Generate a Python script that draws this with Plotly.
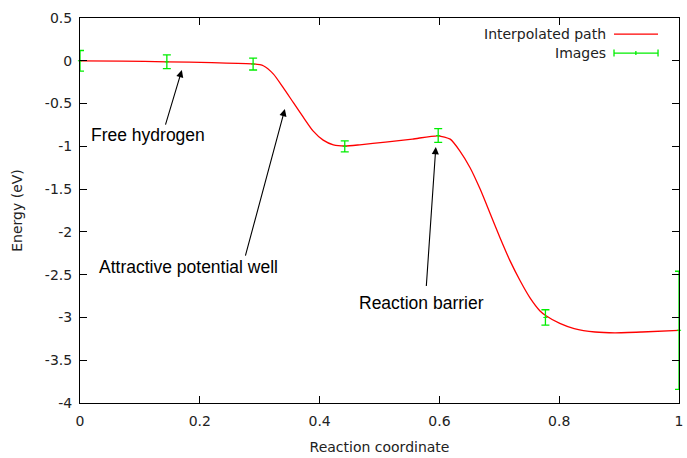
import plotly.graph_objects as go

# Interpolated path
path_x = [0, 0.07, 0.145, 0.22, 0.289, 0.306, 0.323, 0.339, 0.356, 0.373, 0.389, 0.406,
          0.423, 0.442, 0.467, 0.51, 0.555, 0.598, 0.618, 0.634, 0.651, 0.668, 0.684, 0.701,
          0.718, 0.735, 0.751, 0.768, 0.778, 0.801, 0.825, 0.86, 0.893, 0.938, 1.0]
path_y = [0, -0.003, -0.012, -0.022, -0.036, -0.058, -0.156, -0.311, -0.487, -0.662, -0.819, -0.927,
          -0.982, -0.996, -0.982, -0.95, -0.915, -0.877, -0.916, -1.052, -1.247, -1.50, -1.773, -2.066,
          -2.339, -2.574, -2.768, -2.924, -2.98, -3.07, -3.13, -3.17, -3.18, -3.17, -3.15]

# Images with error bars
img_x = [0, 0.145, 0.289, 0.442, 0.598, 0.777, 1.0]
img_y = [0, -0.012, -0.038, -1.0, -0.873, -3.0, -3.15]
img_err = [0.12, 0.08, 0.07, 0.064, 0.08, 0.09, 0.69]

x_ticks = [0, 0.2, 0.4, 0.6, 0.8, 1]
x_tick_labels = ["0", "0.2", "0.4", "0.6", "0.8", "1"]
y_ticks = [0.5, 0, -0.5, -1, -1.5, -2, -2.5, -3, -3.5, -4]
y_tick_labels = ["0.5", "0", "-0.5", "-1", "-1.5", "-2", "-2.5", "-3", "-3.5", "-4"]

legend_labels = ["Interpolated path", "Images"]
x_title = "Reaction coordinate"
y_title = "Energy (eV)"

# Arrow annotations: (tail_x, tail_y, head_x, head_y)
arrows = [
    (0.142, -0.764, 0.170, -0.109),
    (0.2755, -2.296, 0.342, -0.565),
    (0.578, -2.65, 0.594, -1.009),
]
labels = [
    ("Free hydrogen", 0.015, -0.87),
    ("Attractive potential well", 0.028, -2.41),
    ("Reaction barrier", 0.4625, -2.83),
]

RED = "#ff0000"
GREEN = "#00ee00"
FONT = "DejaVu Sans"

fig = go.Figure()
fig.add_trace(go.Scatter(
    x=path_x, y=path_y, mode="lines", line=dict(color=RED, width=1.3, shape="spline", smoothing=0.6),
    name=legend_labels[0], showlegend=False, cliponaxis=True))
fig.add_trace(go.Scatter(
    x=img_x, y=img_y, mode="markers", name=legend_labels[1], showlegend=False,
    marker=dict(color=GREEN, size=3, symbol="line-ew", line=dict(color=GREEN, width=1)),
    error_y=dict(type="data", array=img_err, visible=True, color=GREEN, thickness=1.3, width=4),
    cliponaxis=False))

annotations = []
for (tx, ty, hx, hy) in arrows:
    annotations.append(dict(
        x=hx, y=hy, ax=tx, ay=ty, xref="x", yref="y", axref="x", ayref="y",
        text="", showarrow=True, arrowhead=2, arrowsize=1.3, arrowwidth=1.1, arrowcolor="black"))
for (txt, lx, ly) in labels:
    annotations.append(dict(
        x=lx, y=ly, xref="x", yref="y", text=txt, showarrow=False, xanchor="left", yanchor="middle",
        font=dict(family="Liberation Sans", size=17.5, color="black")))

# Manual legend (text to the left of the sample, like gnuplot)
leg_text_x = 0.882
leg_rows = [0.958, 0.909]
for lab, ry in zip(legend_labels, leg_rows):
    annotations.append(dict(
        x=leg_text_x, y=ry, xref="paper", yref="paper", text=lab, showarrow=False,
        xanchor="right", yanchor="middle", font=dict(family=FONT, size=14, color="#222")))

shapes = []
sx0, sx1, sxm = 0.8915, 0.965, 0.928
cap = 0.009
shapes.append(dict(type="line", xref="paper", yref="paper", x0=sx0, x1=sx1, y0=leg_rows[0], y1=leg_rows[0],
                   line=dict(color=RED, width=1.3)))
shapes.append(dict(type="line", xref="paper", yref="paper", x0=sx0, x1=sx1, y0=leg_rows[1], y1=leg_rows[1],
                   line=dict(color=GREEN, width=1.3)))
for xx in (sx0, sx1, sxm):
    c = cap if xx != sxm else cap * 0.6
    shapes.append(dict(type="line", xref="paper", yref="paper", x0=xx, x1=xx,
                       y0=leg_rows[1] - c, y1=leg_rows[1] + c, line=dict(color=GREEN, width=1.3)))

fig.update_layout(
    width=687, height=458,
    margin=dict(l=80, r=8, t=18, b=55, autoexpand=False),
    plot_bgcolor="white", paper_bgcolor="white",
    font=dict(family=FONT, size=14, color="#222"),
    showlegend=False,
    annotations=annotations, shapes=shapes,
)
fig.update_xaxes(
    range=[0, 1], tickvals=x_ticks, ticktext=x_tick_labels, automargin=False,
    showline=True, linecolor="black", linewidth=1, mirror="ticks",
    ticks="inside", ticklen=7, tickcolor="black", showgrid=False, zeroline=False,
    ticklabelstandoff=5,
    title=dict(text=x_title, font=dict(family=FONT, size=14, color="#222"), standoff=14),
)
fig.update_yaxes(
    range=[-4, 0.5], tickvals=y_ticks, ticktext=y_tick_labels, automargin=False,
    showline=True, linecolor="black", linewidth=1, mirror="ticks",
    ticks="inside", ticklen=7, tickcolor="black", showgrid=False, zeroline=False,
    ticklabelstandoff=4,
    title=dict(text=y_title, font=dict(family=FONT, size=14, color="#222"), standoff=18),
)

fig.write_html("out.html")
